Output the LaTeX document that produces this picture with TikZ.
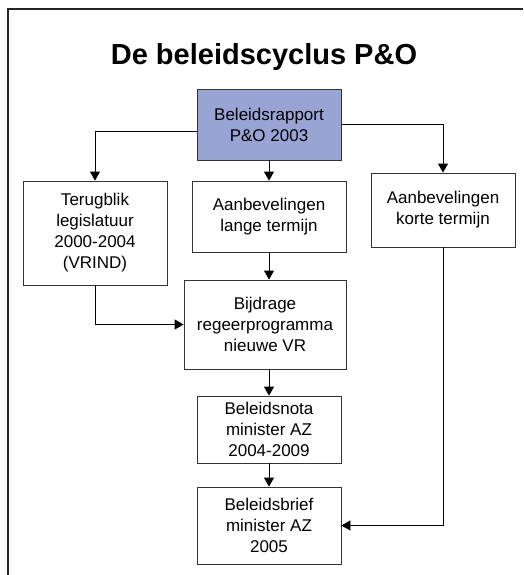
\documentclass[tikz,border=0pt]{standalone}
\usepackage{fontspec}
\setmainfont{Liberation Sans}
\usepackage{tikz}
\usetikzlibrary{arrows.meta,calc}
\usepackage{xcolor}
\definecolor{rapportblue}{RGB}{153,164,212}

\begin{document}
\begin{tikzpicture}[x=1pt,y=-1pt,auto]
\tikzstyle{block} = [rectangle, draw=black!80, line width=0.8pt, fill=white,
align=center, inner sep=2pt, font=\fontsize{17}{21}\selectfont]
\tikzstyle{block_top} = [block, fill=rapportblue]
\tikzstyle{line} = [draw, line width=0.8pt, -{Triangle[length=9pt,width=10pt]}];
\tikzstyle{frame} = [draw=black!85, line width=2pt];

\useasboundingbox (0,0) rectangle (523,575);
\path[frame] (8,575) -- (8,9) -- (523,9);

\node (title) at (264,57) {\fontsize{29}{34}\selectfont\bfseries De beleidscyclus P\&O};

% top row
\node [block_top, minimum width=144pt, minimum height=71pt] (rapport) at (269,124.5) {Beleidsrapport\\P\&O 2003};
% row 2
\node [block, minimum width=144pt, minimum height=104pt] (terug) at (95,233) {Terugblik\\legislatuur\\2000-2004\\(VRIND)};
\node [block, minimum width=154pt, minimum height=71pt] (lang) at (269,216.5) {Aanbevelingen\\lange termijn};
\node [block, minimum width=144pt, minimum height=74pt] (kort) at (443,210) {Aanbevelingen\\korte termijn};
% row 3
\node [block, minimum width=162pt, minimum height=89pt] (bijdrage) at (265,324.5) {Bijdrage\\regeerprogramma\\nieuwe VR};
% row 4
\node [block, minimum width=144pt, minimum height=67pt] (nota) at (269,429.5) {Beleidsnota\\minister AZ\\2004-2009};
% row 5
\node [block, minimum width=144pt, minimum height=77pt] (brief) at (269,525.5) {Beleidsbrief\\minister AZ\\2005};

\tikzstyle{every path}=[line]
\path ([yshift=-7pt]rapport.west) -| (terug.north);
\path (rapport.south) -- (lang.north);
\path (rapport.east) -| (kort.north);
\path (lang.south) -- (lang.south |- bijdrage.north);
\path (terug.south) |- (bijdrage.west);
\path (lang.south |- bijdrage.south) -- (nota.north);
\path (nota) -- (brief);
\path (kort.south) |- (brief.east);

\end{tikzpicture}
\end{document}
